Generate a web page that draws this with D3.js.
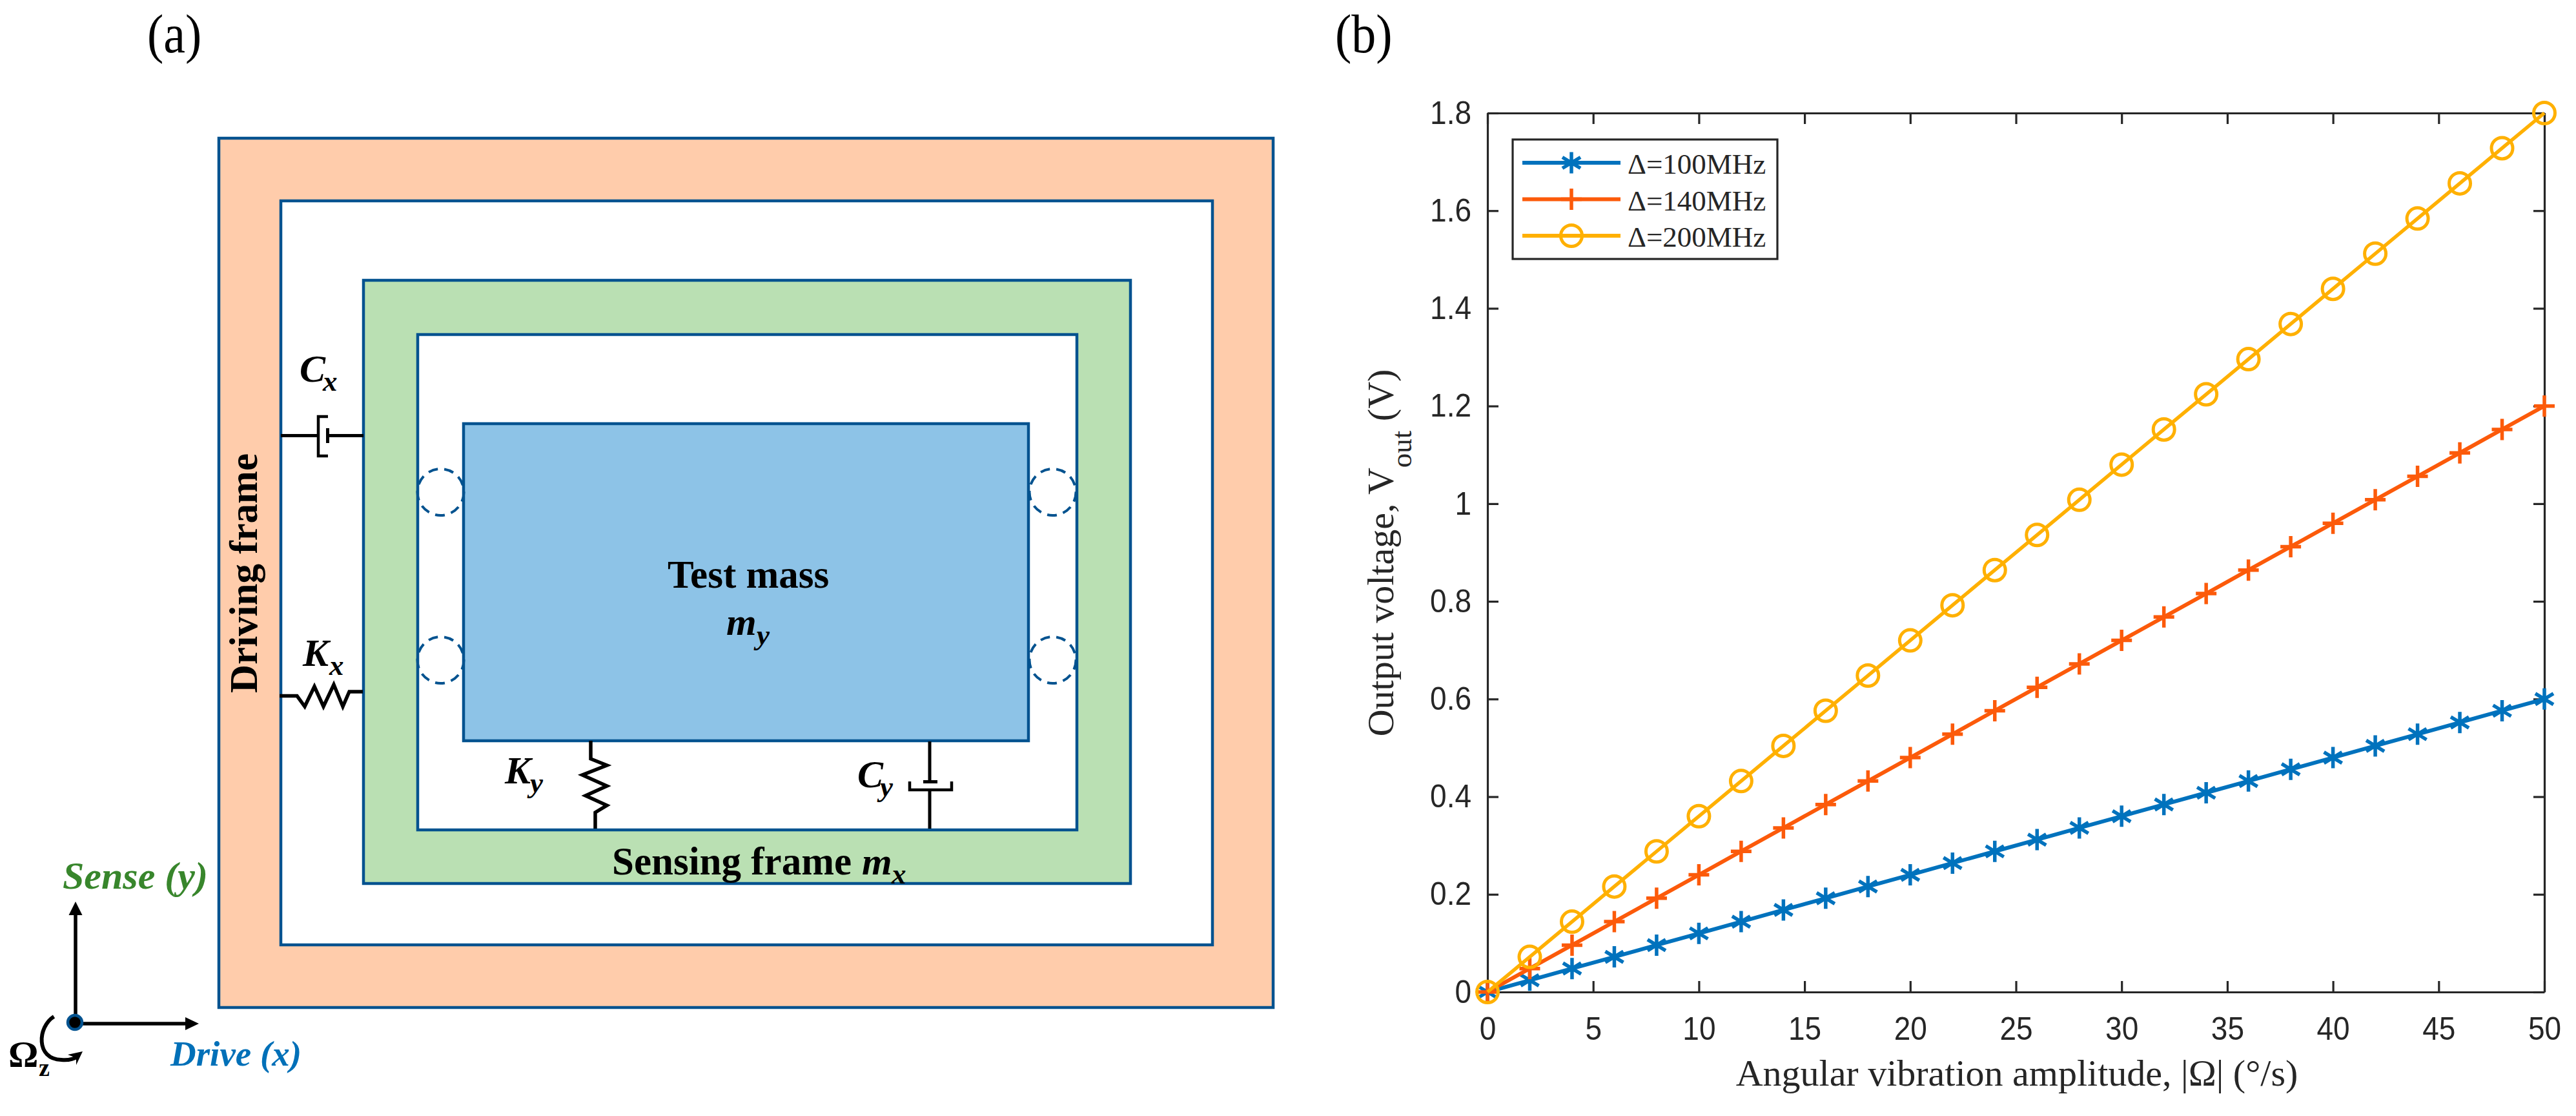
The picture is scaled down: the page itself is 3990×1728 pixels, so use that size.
<!DOCTYPE html>
<html>
<head>
<meta charset="utf-8">
<script src="https://cdn.jsdelivr.net/npm/d3@7"></script>
<style>
	body { margin: 0; background: #fff; }
	svg { display: block; }
	text { fill: #000; }
	.serif { font-family: 'Liberation Serif', serif; }
	.sans { font-family: 'Liberation Sans', sans-serif; }
	.b { font-weight: bold; }
	.bi { font-weight: bold; font-style: italic; }
</style>
</head>
<body>
<div id="chart"></div>
<script>
let width = 3990
let height = 1728

// panel (b) values
let amplitude = [0,2,4,6,8,10,12,14,16,18,20,22,24,26,28,30,32,34,36,38,40,42,44,46,48,50]
let voltage100 = [0,0.024,0.048,0.072,0.096,0.12,0.144,0.168,0.192,0.216,0.24,0.264,0.288,0.312,0.336,0.36,0.384,0.408,0.432,0.456,0.48,0.504,0.528,0.552,0.576,0.6]
let voltage140 = [0,0.048,0.096,0.144,0.192,0.24,0.288,0.336,0.384,0.432,0.48,0.528,0.576,0.624,0.672,0.72,0.768,0.816,0.864,0.912,0.96,1.008,1.056,1.104,1.152,1.2]
let voltage200 = [0,0.072,0.144,0.216,0.288,0.36,0.432,0.504,0.576,0.648,0.72,0.792,0.864,0.936,1.008,1.08,1.152,1.224,1.296,1.368,1.44,1.512,1.584,1.656,1.728,1.8]
let seriesNames = ['Δ=100MHz','Δ=140MHz','Δ=200MHz']
let xTicks = [0,5,10,15,20,25,30,35,40,45,50]
let yTicks = [0,0.2,0.4,0.6,0.8,1,1.2,1.4,1.6,1.8]

let colors = ['#0072bd','#fc5a0a','#ffb000']
let markers = ['star','plus','circle']
let lineWidths = [6,6,5.5]

let frameBlue = '#02528f'
let axisColor = '#262626'

let svg = d3.select('#chart').append('svg')
	.attr('width',width)
	.attr('height',height)

// ---------- panel (a), the schematic ----------
let diagram = svg.append('g')

function box(x0,y0,x1,y1,fill) {
	diagram.append('rect')
		.attr('x',x0).attr('y',y0)
		.attr('width',x1-x0).attr('height',y1-y0)
		.attr('fill',fill)
		.attr('stroke',frameBlue)
		.attr('stroke-width',4.5)
}

box(339,214,1972,1560,'#ffccab')
box(435,311,1878,1463,'#fff')
box(563,434,1751,1368,'#bae0b3')
box(647,518,1668,1285,'#fff')
box(718,656,1593,1147,'#8dc3e7')

// dashed joints between mass and frame
let jointX = [682.5,1630.5]
let jointY = [762,1022]
jointX.forEach((cx) => {
	jointY.forEach((cy) => {
		diagram.append('circle')
			.attr('cx',cx).attr('cy',cy).attr('r',36)
			.attr('fill','none')
			.attr('stroke',frameBlue)
			.attr('stroke-width',4)
			.attr('stroke-dasharray','15 10')
	})
})

let wire = d3.line()

function drawWire(points,w) {
	diagram.append('path')
		.attr('d',wire(points))
		.attr('fill','none')
		.attr('stroke','#000')
		.attr('stroke-width',w || 5)
		.attr('stroke-linejoin','miter')
}

// Cx damper
drawWire([[435,674.5],[493,674.5]])
drawWire([[508,645],[493,645],[493,706],[508,706]],4.5)
drawWire([[507.5,663],[507.5,686]],5)
drawWire([[507.5,674.5],[563,674.5]])
// Kx spring
drawWire([[433,1077.5],[460,1077.5],[472,1094],[487,1063],[501,1094],[517,1060],[531,1094],[541,1071],[562,1071]],5.5)
// Ky spring
drawWire([[915,1147],[915,1175],[940,1185],[902,1200],[940,1217],[907,1232],[940,1247],[922,1258],[922,1283]],5.5)
// Cy damper
drawWire([[1440,1148],[1440,1208]])
drawWire([[1430,1210.5],[1452,1210.5]],5)
drawWire([[1409,1210],[1409,1223],[1474,1223],[1474,1210]],4.5)
drawWire([[1440,1223],[1440,1283]])

// axes arrows in the corner
drawWire([[117,1583],[117,1415]],5.5)
drawWire([[116,1585],[289,1585]],5.5)
diagram.append('path').attr('d','M117,1396L106.5,1417L127.5,1417Z').attr('fill','#000')
diagram.append('path').attr('d','M308,1585L287,1575L287,1595Z').attr('fill','#000')
diagram.append('circle')
	.attr('cx',116).attr('cy',1583).attr('r',11)
	.attr('fill','#000')
	.attr('stroke',frameBlue)
	.attr('stroke-width',4.5)
diagram.append('path')
	.attr('d','M83.5,1574C58,1590 55,1640 95,1641C106,1642 114,1640 120,1636')
	.attr('fill','none')
	.attr('stroke','#000')
	.attr('stroke-width',6)
diagram.append('path').attr('d','M128,1628L118,1649L118,1638L105,1633Z').attr('fill','#000')

function label(g,x,y,str,size,cls,fill) {
	return g.append('text')
		.attr('x',x).attr('y',y)
		.attr('class','serif '+cls)
		.attr('font-size',size)
		.style('fill',fill || '#000')
		.text(str)
}

// panel letters are a little stretched in height in the original
label(svg,0,0,'(a)',76,'').attr('transform','translate(228,81) scale(1,1.12)')
label(svg,0,0,'(b)',76,'').attr('transform','translate(2068,81) scale(1,1.12)')

label(diagram,97,1376,'Sense (y)',60,'bi','#38862c')
label(diagram,264,1650,'Drive (x)',55,'bi','#0070b8')
label(diagram,13,1652,'Ω',58,'b')
label(diagram,60,1666,'z',38,'b')

label(diagram,1034,910,'Test mass',61,'b')
label(diagram,1125,983,'m',60,'bi')
label(diagram,1172,998,'y',45,'bi')

label(diagram,948,1354,'Sensing frame',61,'b')
label(diagram,1335,1354,'m',60,'bi')
label(diagram,1381,1368,'x',45,'bi')

label(diagram,464,591,'C',60,'bi')
label(diagram,500,605,'x',45,'bi')
label(diagram,469,1031,'K',60,'bi')
label(diagram,510,1045,'x',45,'bi')
label(diagram,782,1213,'K',60,'bi')
label(diagram,821,1227,'y',45,'bi')
label(diagram,1328,1219,'C',60,'bi')
label(diagram,1363,1233,'y',45,'bi')

label(diagram,0,0,'Driving frame',61,'b')
	.attr('transform','translate(398,1073) rotate(-90)')

// ---------- panel (b), the line chart ----------
let xScale = d3.scaleLinear()
	.domain([0,50])
	.range([2304,3941])

let yScale = d3.scaleLinear()
	.domain([0,1.8])
	.range([1536,175])

let axisShell = svg.append('g')

function styleAxis(g) {
	g.select('.domain').attr('stroke',axisColor).attr('stroke-width',3.2)
	g.selectAll('.tick line').attr('stroke',axisColor).attr('stroke-width',3.2)
	g.selectAll('.tick text')
		.attr('class','sans')
		.attr('font-size',46)
		.attr('transform','scale(1,1.1)')
		.style('fill',axisColor)
}

axisShell.append('g')
	.attr('transform','translate(0,1536)')
	.call(d3.axisBottom(xScale).tickValues(xTicks).tickFormat(d3.format('d')).tickSize(-17).tickSizeOuter(0).tickPadding(34.6))
	.call(styleAxis)

axisShell.append('g')
	.attr('transform','translate(0,175)')
	.call(d3.axisTop(xScale).tickValues(xTicks).tickFormat('').tickSize(-17).tickSizeOuter(0))
	.call(styleAxis)

axisShell.append('g')
	.attr('transform','translate(2304,0)')
	.call(d3.axisLeft(yScale).tickValues(yTicks).tickFormat((d) => String(d)).tickSize(-17).tickSizeOuter(0).tickPadding(25))
	.call(styleAxis)

axisShell.append('g')
	.attr('transform','translate(3941,0)')
	.call(d3.axisRight(yScale).tickValues(yTicks).tickFormat('').tickSize(-17).tickSizeOuter(0))
	.call(styleAxis)

function drawMarker(g,kind,color) {
	if (kind == 'circle') {
		g.append('circle')
			.attr('r',16.5)
			.attr('fill','none')
			.attr('stroke',color)
			.attr('stroke-width',5)
	} else {
		let segs = kind == 'plus'
			? 'M0,-16.5V16.5M-16,0H16'
			: 'M0,-16.5V16.5M-14,-8.5L14,8.5M-14,8.5L14,-8.5'
		g.append('path')
			.attr('d',segs)
			.attr('fill','none')
			.attr('stroke',color)
			.attr('stroke-width',5.5)
	}
}

let line = d3.line()
	.x((d) => xScale(d.x))
	.y((d) => yScale(d.y))

let marks = svg.append('g')

;[voltage100,voltage140,voltage200].forEach((values,i) => {
	let data = values.map((v,j) => ({x:amplitude[j],y:v}))
	let s = marks.append('g')
	s.append('path')
		.attr('d',line(data))
		.attr('fill','none')
		.attr('stroke',colors[i])
		.attr('stroke-width',lineWidths[i])
	s.selectAll('g')
		.data(data)
		.enter().append('g')
		.attr('transform',(d) => 'translate('+xScale(d.x)+','+yScale(d.y)+')')
		.each(function() {
			drawMarker(d3.select(this),markers[i],colors[i])
		})
})

// axis titles
svg.append('text')
	.attr('class','serif')
	.attr('x',3124).attr('y',1681)
	.attr('text-anchor','middle')
	.attr('font-size',58)
	.style('fill',axisColor)
	.text('Angular vibration amplitude, |Ω| (°/s)')

let yTitle = svg.append('text')
	.attr('class','serif')
	.attr('transform','translate(2158,856) rotate(-90)')
	.attr('text-anchor','middle')
	.attr('font-size',58)
	.style('fill',axisColor)
yTitle.append('tspan').text('Output voltage, V')
yTitle.append('tspan').attr('font-size',45).attr('dy',28).text('out')
yTitle.append('tspan').attr('dy',-28).text(' (V)')

// legend
let legend = svg.append('g')
legend.append('rect')
	.attr('x',2343).attr('y',216)
	.attr('width',410).attr('height',185)
	.attr('fill','#fff')
	.attr('stroke',axisColor)
	.attr('stroke-width',3.2)

let legendY = d3.scalePoint()
	.domain(seriesNames)
	.range([252,365])

seriesNames.forEach((name,i) => {
	let y = legendY(name)
	legend.append('line')
		.attr('x1',2358).attr('x2',2510)
		.attr('y1',y).attr('y2',y)
		.attr('stroke',colors[i])
		.attr('stroke-width',6)
	drawMarker(legend.append('g').attr('transform','translate(2434,'+y+')'),markers[i],colors[i])
	legend.append('text')
		.attr('class','serif')
		.attr('x',2521).attr('y',y+17)
		.attr('font-size',45)
		.style('fill',axisColor)
		.text(name)
})
</script>
</body>
</html>
